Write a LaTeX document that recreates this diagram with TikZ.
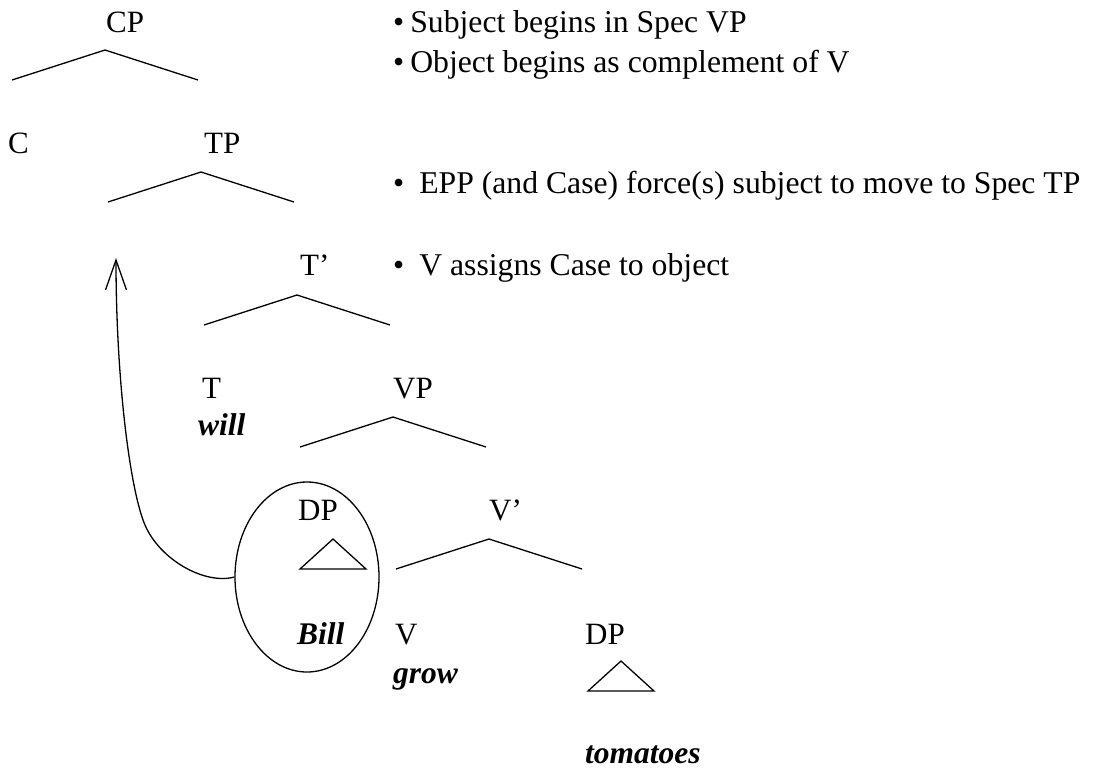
\documentclass[tikz,border=0pt]{standalone}
\usepackage{fontspec}
\setmainfont{Liberation Serif}
\usetikzlibrary{shapes.geometric,arrows.meta}
\begin{document}
\begin{tikzpicture}[x=1pt,y=-1pt,
  lab/.style={anchor=base west,inner sep=0pt,font=\fontsize{31}{37}\selectfont},
  word/.style={anchor=base west,inner sep=0pt,font=\fontsize{31.5}{37}\selectfont\bfseries\itshape},
  bul/.style={anchor=base west,inner sep=0pt,font=\fontsize{31.7}{38}\selectfont},
  branchline/.style={line width=1.3pt},
  ring/.style={draw,ellipse,line width=1.3pt,inner sep=0pt,minimum width=144pt,minimum height=190pt},
  movearrow/.style={line width=1.3pt,-{Straight Barb[length=30pt,width=21pt,line width=1.3pt]}}
]
\useasboundingbox (0,0) rectangle (1095,772);
% labels
\node[lab] (cp) at (106,32) {CP};
\node[lab] (c) at (8,153) {C};
\node[lab] (tp) at (204,153) {TP};
\node[lab] (tbar) at (300,275) {T’};
\node[lab] (t) at (202,398) {T};
\node[word] (will) at (198,435) {will};
\node[lab] (vp) at (393,398) {VP};
\node[lab] (dpsubj) at (298,520) {DP};
\node[lab] (vbar) at (489,520) {V’};
\node[word] (bill) at (297,644) {Bill};
\node[lab] (v) at (395,644) {V};
\node[word] (grow) at (393,683) {grow};
\node[lab] (dpobj) at (585,644) {DP};
\node[word] (tom) at (585,763) {tomatoes};
% bullets
\node[bul] (b1) at (393,32) {•\hspace{6pt}Subject begins in Spec VP};
\node[bul] (b2) at (393,72) {•\hspace{6pt}Object begins as complement of V};
\node[bul] (b3) at (393,193) {•\hspace{15pt}EPP (and Case) force(s) subject to move to Spec TP};
\node[bul] (b4) at (393,275) {•\hspace{15pt}V assigns Case to object};
% branches
\foreach \ax/\ay in {105/50,201/172,297/295,393/417,489/539}
  \draw[branchline] (\ax-93,\ay+30) -- (\ax,\ay) -- (\ax+93,\ay+30);
% triangles
\draw[branchline] (300,569) -- (333,539) -- (366,569) -- cycle;
\draw[branchline] (588,691) -- (621,661) -- (654,691) -- cycle;
% circle round subject
\node[ring] (subj) at (307,577) {};
\coordinate (landing) at (116,258);
\draw[movearrow] (subj.west) .. controls (205,585) and (160,560) .. (145,525)
  .. controls (130,490) and (116,380) .. (landing);
\end{tikzpicture}
\end{document}
